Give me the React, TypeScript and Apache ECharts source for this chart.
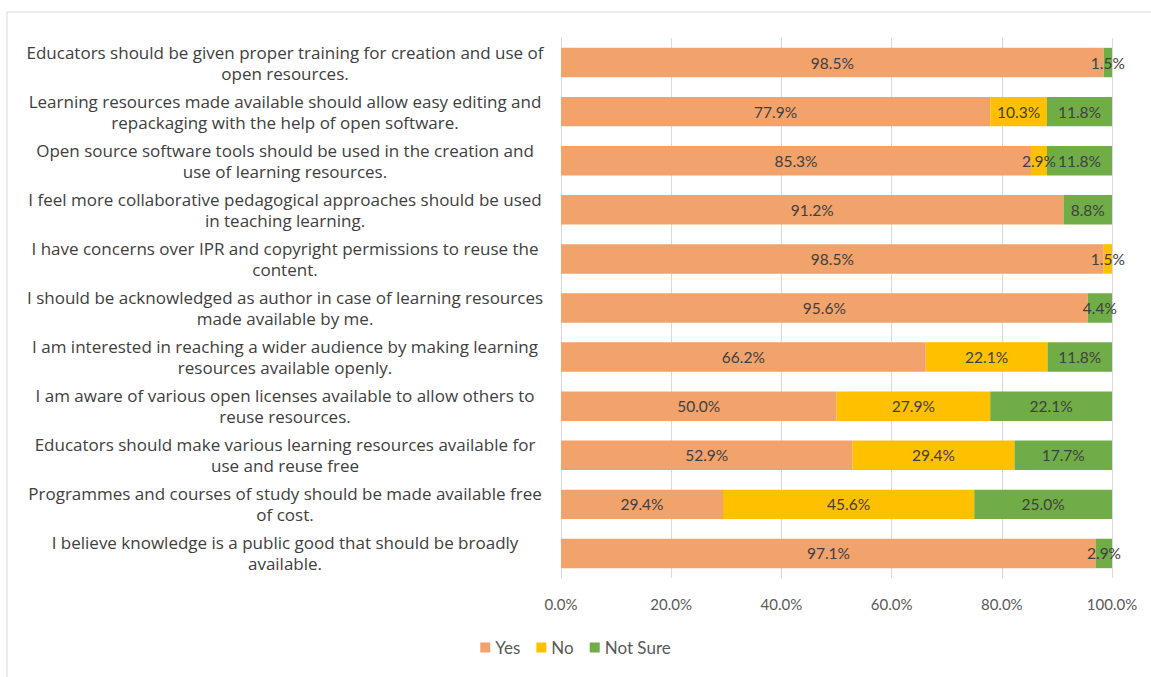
import React, { useEffect, useRef } from "react";
import * as echarts from "echarts";

const categories = [
  "Educators should be given proper training for creation and use of\nopen resources.",
  "Learning resources made available should allow easy editing and\nrepackaging with the help of open software.",
  "Open source software tools should be used in the creation and\nuse of learning resources.",
  "I feel more collaborative pedagogical approaches should be used\nin teaching learning.",
  "I have concerns over IPR and copyright permissions to reuse the\ncontent.",
  "I should be acknowledged as author in case of learning resources\nmade available by me.",
  "I am interested in reaching a wider audience by making learning\nresources available openly.",
  "I am aware of various open licenses available to allow others to\nreuse resources.",
  "Educators should make various learning resources available for\nuse and reuse free",
  "Programmes and courses of study should be made available free\nof cost.",
  "I believe knowledge is a public good that should be broadly\navailable.",
];

const yesValues = [98.5, 77.9, 85.3, 91.2, 98.5, 95.6, 66.2, 50.0, 52.9, 29.4, 97.1];
const noValues = [0, 10.3, 2.9, 0, 1.5, 0, 22.1, 27.9, 29.4, 45.6, 0];
const notSureValues = [1.5, 11.8, 11.8, 8.8, 0, 4.4, 11.8, 22.1, 17.7, 25.0, 2.9];

const xTicks = [0, 20, 40, 60, 80, 100];

const FONT = "Lato, 'Open Sans', sans-serif";
const CAT_FONT = "'Open Sans', Lato, sans-serif";

export default function App() {
  const ref = useRef<HTMLDivElement>(null);
  useEffect(() => {
    if (!ref.current) return;
    const chart = echarts.init(ref.current, undefined, { renderer: "svg" });
    const mkSeries = (name: string, data: number[], color: string) => ({
      name,
      type: "bar",
      stack: "total",
      barWidth: "60%",
      data,
      itemStyle: { color },
      label: {
        show: true,
        position: "inside",
        color: "#404040",
        fontSize: 15.5,
        fontFamily: FONT,
        formatter: (p: any) => (p.value > 0 ? `${Number(p.value).toFixed(1)}%` : ""),
      },
    });
    chart.setOption({
      animation: false,
      textStyle: { fontFamily: FONT },
      graphic: [
        {
          type: "rect",
          shape: { x: 7, y: 12, width: 1150, height: 670 },
          style: { fill: "none", stroke: "#d9d9d9", lineWidth: 1 },
          silent: true,
        },
      ],
      grid: { left: 561, right: 39, top: 38, bottom: 99 },
      xAxis: {
        type: "value",
        min: xTicks[0],
        max: xTicks[xTicks.length - 1],
        interval: 20,
        axisLine: { show: false },
        axisTick: { show: false },
        splitLine: { show: true, lineStyle: { color: "#d9d9d9", width: 1 } },
        axisLabel: {
          color: "#595959",
          fontSize: 15,
          fontFamily: FONT,
          margin: 18,
          formatter: (v: number) => `${v.toFixed(1)}%`,
        },
      },
      yAxis: {
        type: "category",
        inverse: true,
        data: categories,
        axisLine: { show: true, lineStyle: { color: "#d9d9d9" } },
        axisTick: { show: false },
        axisLabel: {
          color: "#404040",
          fontSize: 17,
          fontFamily: CAT_FONT,
          align: "center",
          margin: 276,
          lineHeight: 21,
        },
      },
      legend: {
        bottom: 16,
        left: "center",
        itemWidth: 10,
        itemHeight: 10,
        itemGap: 16,
        icon: "rect",
        textStyle: { color: "#595959", fontSize: 17, fontFamily: FONT },
        data: ["Yes", "No", "Not Sure"],
      },
      series: [
        mkSeries("Yes", yesValues, "#F2A26B"),
        mkSeries("No", noValues, "#FFC000"),
        mkSeries("Not Sure", notSureValues, "#70AD47"),
      ],
    });
    return () => chart.dispose();
  }, []);
  return (
    <div
      ref={ref}
      style={{ position: "fixed", left: 0, top: 0, width: 1151, height: 677, background: "#fff" }}
    />
  );
}
